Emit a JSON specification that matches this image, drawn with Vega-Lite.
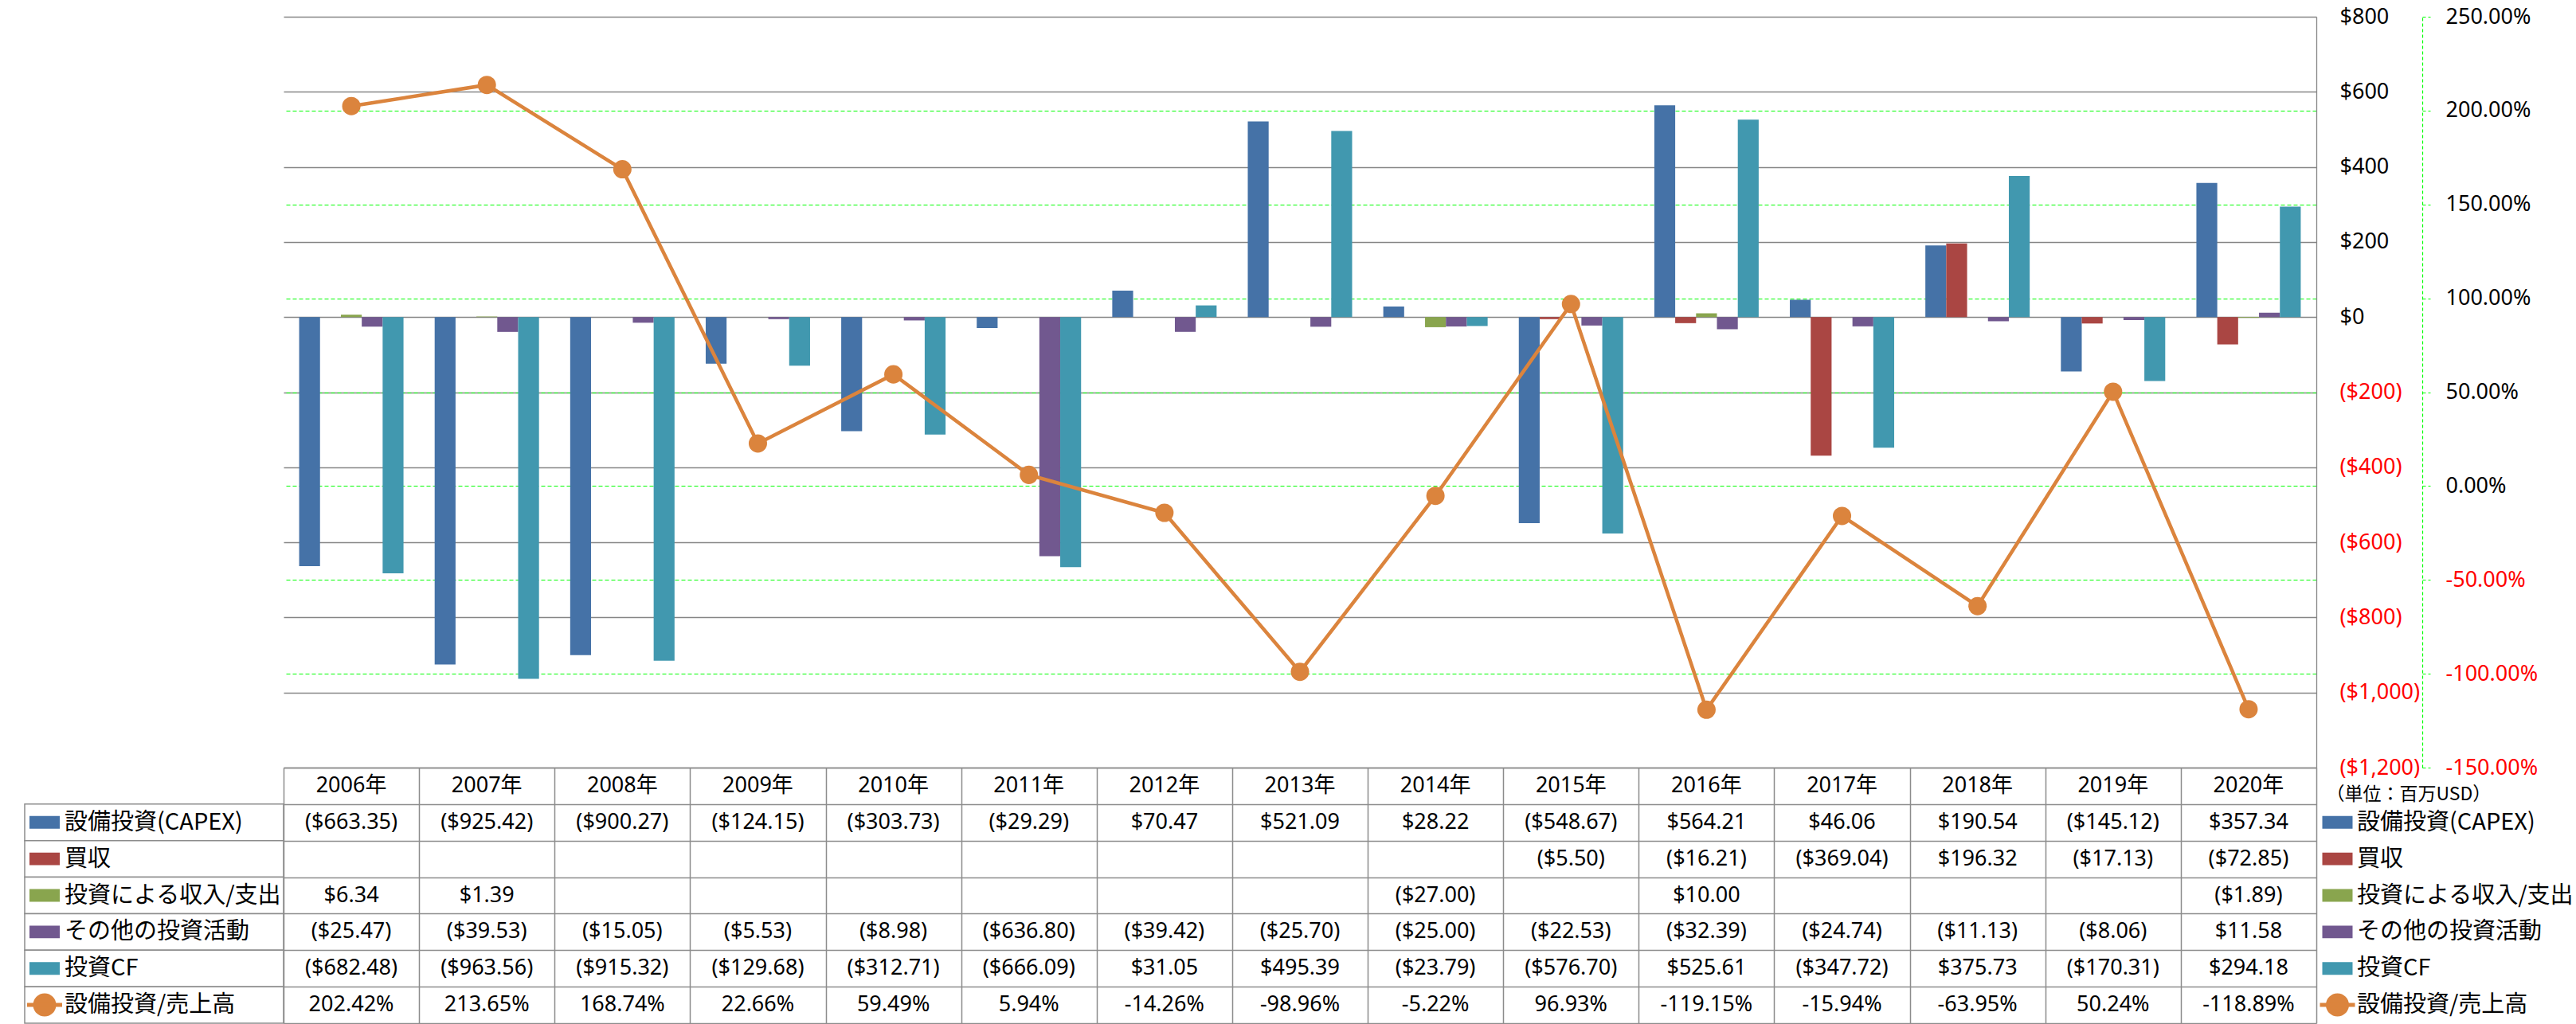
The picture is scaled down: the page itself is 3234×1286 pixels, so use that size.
{
  "$schema": "https://vega.github.io/schema/vega-lite/v6.json",
  "padding": {"left": 24, "top": 7, "right": 2, "bottom": 1},
  "background": "white",
  "config": {
    "font": "Noto Sans CJK JP",
    "view": {"stroke": null},
    "locale": {"number": {"decimal": ".", "thousands": ",", "grouping": [3], "currency": ["$", ""], "minus": "-"}},
    "text": {"font": "Noto Sans CJK JP", "fontSize": 29, "color": "#000000"},
    "axis": {"labelFont": "'Noto Sans', 'Noto Sans CJK JP'", "titleFont": "Noto Sans CJK JP"}
  },
  "datasets": {
    "cf": [
      {"year": "2006年", "series": "設備投資(CAPEX)", "value": -663.35},
      {"year": "2007年", "series": "設備投資(CAPEX)", "value": -925.42},
      {"year": "2008年", "series": "設備投資(CAPEX)", "value": -900.27},
      {"year": "2009年", "series": "設備投資(CAPEX)", "value": -124.15},
      {"year": "2010年", "series": "設備投資(CAPEX)", "value": -303.73},
      {"year": "2011年", "series": "設備投資(CAPEX)", "value": -29.29},
      {"year": "2012年", "series": "設備投資(CAPEX)", "value": 70.47},
      {"year": "2013年", "series": "設備投資(CAPEX)", "value": 521.09},
      {"year": "2014年", "series": "設備投資(CAPEX)", "value": 28.22},
      {"year": "2015年", "series": "設備投資(CAPEX)", "value": -548.67},
      {"year": "2016年", "series": "設備投資(CAPEX)", "value": 564.21},
      {"year": "2017年", "series": "設備投資(CAPEX)", "value": 46.06},
      {"year": "2018年", "series": "設備投資(CAPEX)", "value": 190.54},
      {"year": "2019年", "series": "設備投資(CAPEX)", "value": -145.12},
      {"year": "2020年", "series": "設備投資(CAPEX)", "value": 357.34},
      {"year": "2015年", "series": "買収", "value": -5.50},
      {"year": "2016年", "series": "買収", "value": -16.21},
      {"year": "2017年", "series": "買収", "value": -369.04},
      {"year": "2018年", "series": "買収", "value": 196.32},
      {"year": "2019年", "series": "買収", "value": -17.13},
      {"year": "2020年", "series": "買収", "value": -72.85},
      {"year": "2006年", "series": "投資による収入/支出", "value": 6.34},
      {"year": "2007年", "series": "投資による収入/支出", "value": 1.39},
      {"year": "2014年", "series": "投資による収入/支出", "value": -27.00},
      {"year": "2016年", "series": "投資による収入/支出", "value": 10.00},
      {"year": "2020年", "series": "投資による収入/支出", "value": -1.89},
      {"year": "2006年", "series": "その他の投資活動", "value": -25.47},
      {"year": "2007年", "series": "その他の投資活動", "value": -39.53},
      {"year": "2008年", "series": "その他の投資活動", "value": -15.05},
      {"year": "2009年", "series": "その他の投資活動", "value": -5.53},
      {"year": "2010年", "series": "その他の投資活動", "value": -8.98},
      {"year": "2011年", "series": "その他の投資活動", "value": -636.80},
      {"year": "2012年", "series": "その他の投資活動", "value": -39.42},
      {"year": "2013年", "series": "その他の投資活動", "value": -25.70},
      {"year": "2014年", "series": "その他の投資活動", "value": -25.00},
      {"year": "2015年", "series": "その他の投資活動", "value": -22.53},
      {"year": "2016年", "series": "その他の投資活動", "value": -32.39},
      {"year": "2017年", "series": "その他の投資活動", "value": -24.74},
      {"year": "2018年", "series": "その他の投資活動", "value": -11.13},
      {"year": "2019年", "series": "その他の投資活動", "value": -8.06},
      {"year": "2020年", "series": "その他の投資活動", "value": 11.58},
      {"year": "2006年", "series": "投資CF", "value": -682.48},
      {"year": "2007年", "series": "投資CF", "value": -963.56},
      {"year": "2008年", "series": "投資CF", "value": -915.32},
      {"year": "2009年", "series": "投資CF", "value": -129.68},
      {"year": "2010年", "series": "投資CF", "value": -312.71},
      {"year": "2011年", "series": "投資CF", "value": -666.09},
      {"year": "2012年", "series": "投資CF", "value": 31.05},
      {"year": "2013年", "series": "投資CF", "value": 495.39},
      {"year": "2014年", "series": "投資CF", "value": -23.79},
      {"year": "2015年", "series": "投資CF", "value": -576.70},
      {"year": "2016年", "series": "投資CF", "value": 525.61},
      {"year": "2017年", "series": "投資CF", "value": -347.72},
      {"year": "2018年", "series": "投資CF", "value": 375.73},
      {"year": "2019年", "series": "投資CF", "value": -170.31},
      {"year": "2020年", "series": "投資CF", "value": 294.18},
      {"year": "2006年", "series": "設備投資/売上高", "value": 2.0242},
      {"year": "2007年", "series": "設備投資/売上高", "value": 2.1365},
      {"year": "2008年", "series": "設備投資/売上高", "value": 1.6874},
      {"year": "2009年", "series": "設備投資/売上高", "value": 0.2266},
      {"year": "2010年", "series": "設備投資/売上高", "value": 0.5949},
      {"year": "2011年", "series": "設備投資/売上高", "value": 0.0594},
      {"year": "2012年", "series": "設備投資/売上高", "value": -0.1426},
      {"year": "2013年", "series": "設備投資/売上高", "value": -0.9896},
      {"year": "2014年", "series": "設備投資/売上高", "value": -0.0522},
      {"year": "2015年", "series": "設備投資/売上高", "value": 0.9693},
      {"year": "2016年", "series": "設備投資/売上高", "value": -1.1915},
      {"year": "2017年", "series": "設備投資/売上高", "value": -0.1594},
      {"year": "2018年", "series": "設備投資/売上高", "value": -0.6395},
      {"year": "2019年", "series": "設備投資/売上高", "value": 0.5024},
      {"year": "2020年", "series": "設備投資/売上高", "value": -1.1889}
    ]
  },
  "columns": 3,
  "spacing": 0,
  "bounds": "flush",
  "align": "each",
  "concat": [
    {"width": 325, "height": 943, "data": {"values": []}, "mark": "point", "encoding": {}},
    {
      "width": 2552,
      "height": 943,
      "data": {"name": "cf"},
      "layer": [
        {
          "transform": [{"filter": "datum.series !== '設備投資/売上高'"}],
          "mark": {"type": "bar"},
          "encoding": {
            "x": {"field": "year", "type": "nominal", "sort": null, "scale": {"paddingInner": 0.23, "paddingOuter": 0.115}, "axis": null},
            "xOffset": {"field": "series", "type": "nominal", "sort": null, "scale": {"domain": ["設備投資(CAPEX)", "買収", "投資による収入/支出", "その他の投資活動", "投資CF"], "paddingInner": 0, "paddingOuter": 0}},
            "y": {
              "field": "value", "type": "quantitative",
              "scale": {"domain": [-1200, 800], "nice": false, "zero": false},
              "axis": {
                "orient": "right", "title": null,
                "values": [-1200, -1000, -800, -600, -400, -200, 0, 200, 400, 600, 800],
                "format": "($,.0f",
                "labelFontSize": 27, "labelAlign": "left", "labelBaseline": "middle", "labelPadding": 29,
                "labelColor": {"condition": {"test": "datum.value < 0", "value": "#FF0000"}, "value": "#000000"},
                "labelFlush": false, "labelOverlap": false, "labelBound": false,
                "ticks": false,
                "domain": true, "domainColor": "#868686", "domainWidth": 1.3,
                "grid": true, "gridColor": "#868686", "gridWidth": 1.3
              }
            },
            "color": {"field": "series", "type": "nominal", "scale": {"domain": ["設備投資(CAPEX)", "買収", "投資による収入/支出", "その他の投資活動", "投資CF"], "range": ["#4572A7", "#AA4643", "#89A54E", "#71588F", "#4198AF"]}, "legend": null}
          }
        },
        {
          "transform": [{"filter": "datum.series === '設備投資/売上高'"}],
          "encoding": {
            "x": {"field": "year", "type": "nominal", "sort": null},
            "y": {
              "field": "value", "type": "quantitative",
              "scale": {"domain": [-1.5, 2.5], "nice": false, "zero": false},
              "axis": {
                "orient": "right", "offset": 133, "title": null,
                "values": [-1.5, -1, -0.5, 0, 0.5, 1, 1.5, 2, 2.5],
                "format": ".2%",
                "labelFontSize": 27, "labelAlign": "left", "labelBaseline": "middle", "labelPadding": 19,
                "labelColor": {"condition": {"test": "datum.value < 0", "value": "#FF0000"}, "value": "#000000"},
                "labelFlush": false, "labelOverlap": false, "labelBound": false,
                "ticks": true, "tickSize": 10, "tickColor": "#00FF00", "tickWidth": 1.2, "tickDash": [4, 3],
                "domain": true, "domainColor": "#00FF00", "domainWidth": 1.2, "domainDash": [4, 3],
                "grid": true, "gridColor": "#00FF00", "gridWidth": 1.2, "gridDash": [5, 3],
                "gridOpacity": {"condition": {"test": "datum.value === 2.5 || datum.value === -1.5", "value": 0}, "value": 1}
              }
            }
          },
          "layer": [
            {"mark": {"type": "line", "color": "#DB843D", "strokeWidth": 4.5}},
            {"mark": {"type": "point", "filled": true, "color": "#DB843D", "opacity": 1, "size": 530}}
          ]
        }
      ],
      "resolve": {"scale": {"y": "independent"}}
    },
    {"width": 330, "height": 943, "data": {"values": []}, "mark": "point", "encoding": {}},
    {
      "width": 325,
      "height": 321,
      "data": {"name": "cf"},
      "transform": [{"aggregate": [{"op": "count", "as": "n"}], "groupby": ["series"]}],
      "layer": [
        {
          "mark": {"type": "rect", "fill": "white", "stroke": "#8C8C8C", "strokeWidth": 1.5},
          "encoding": {
            "y": {"field": "series", "type": "nominal", "scale": {"domain": ["年度", "設備投資(CAPEX)", "買収", "投資による収入/支出", "その他の投資活動", "投資CF", "設備投資/売上高"], "paddingInner": 0, "paddingOuter": 0}, "axis": null}
          }
        },
        {
          "transform": [{"filter": "datum.series !== '設備投資/売上高'"}],
          "mark": {"type": "point", "shape": "M-1,-0.42L1,-0.42L1,0.42L-1,0.42Z", "size": 1444, "filled": true, "opacity": 1},
          "encoding": {
            "x": {"datum": "key", "type": "nominal", "scale": {"type": "point", "domain": ["key", "label"], "range": [25, 50], "padding": 0}, "axis": null},
            "y": {"field": "series", "type": "nominal", "axis": null},
            "color": {"field": "series", "type": "nominal", "scale": {"domain": ["設備投資(CAPEX)", "買収", "投資による収入/支出", "その他の投資活動", "投資CF"], "range": ["#4572A7", "#AA4643", "#89A54E", "#71588F", "#4198AF"]}, "legend": null}
          }
        },
        {
          "transform": [{"filter": "datum.series === '設備投資/売上高'"}],
          "mark": {"type": "point", "shape": "M-1,0L1,0M-0.545,0A0.545,0.545,0,1,1,0.545,0A0.545,0.545,0,1,1,-0.545,0Z", "size": 1936, "filled": true, "fill": "#DB843D", "stroke": "#DB843D", "strokeWidth": 5, "opacity": 1},
          "encoding": {
            "x": {"datum": "key", "type": "nominal", "axis": null},
            "y": {"field": "series", "type": "nominal", "axis": null}
          }
        },
        {
          "mark": {"type": "text", "align": "left", "fontSize": 29},
          "encoding": {
            "x": {"datum": "label", "type": "nominal", "axis": null},
            "y": {"field": "series", "type": "nominal", "axis": null},
            "text": {"field": "series"}
          }
        }
      ]
    },
    {
      "width": 2552,
      "height": 321,
      "data": {"name": "cf"},
      "encoding": {
        "x": {"field": "year", "type": "nominal", "sort": null, "scale": {"paddingInner": 0, "paddingOuter": 0},
          "axis": {"orient": "top", "grid": true, "tickBand": "extent", "gridColor": "#8C8C8C", "gridWidth": 1.5, "labels": false, "ticks": false, "domain": false, "title": null}}
      },
      "layer": [
        {
          "transform": [{"filter": "datum.series === '設備投資/売上高'"}],
          "mark": {"type": "text", "fontSize": 27, "font": "'Noto Sans', 'Noto Sans CJK JP'"},
          "encoding": {
            "y": {"datum": "年度", "type": "nominal", "scale": {"domain": ["年度", "設備投資(CAPEX)", "買収", "投資による収入/支出", "その他の投資活動", "投資CF", "設備投資/売上高"], "paddingInner": 0, "paddingOuter": 0},
              "axis": {"grid": true, "tickBand": "extent", "gridColor": "#8C8C8C", "gridWidth": 1.5, "labels": false, "ticks": false, "domain": false, "title": null}},
            "text": {"field": "year"}
          }
        },
        {
          "transform": [{"filter": "datum.series !== '設備投資/売上高'"}],
          "mark": {"type": "text", "fontSize": 27, "font": "Noto Sans"},
          "encoding": {
            "y": {"field": "series", "type": "nominal", "axis": {"grid": true, "tickBand": "extent", "gridColor": "#8C8C8C", "gridWidth": 1.5, "labels": false, "ticks": false, "domain": false, "title": null}},
            "text": {"field": "value", "type": "quantitative", "format": "($,.2f"}
          }
        },
        {
          "transform": [{"filter": "datum.series === '設備投資/売上高'"}],
          "mark": {"type": "text", "fontSize": 27, "font": "Noto Sans"},
          "encoding": {
            "y": {"field": "series", "type": "nominal", "axis": {"grid": true, "tickBand": "extent", "gridColor": "#8C8C8C", "gridWidth": 1.5, "labels": false, "ticks": false, "domain": false, "title": null}},
            "text": {"field": "value", "type": "quantitative", "format": ".2%"}
          }
        }
      ]
    },
    {
      "width": 330,
      "height": 321,
      "data": {"name": "cf"},
      "transform": [{"aggregate": [{"op": "count", "as": "n"}], "groupby": ["series"]}],
      "layer": [
        {
          "transform": [{"filter": "datum.series !== '設備投資/売上高'"}],
          "mark": {"type": "point", "shape": "M-1,-0.42L1,-0.42L1,0.42L-1,0.42Z", "size": 1444, "filled": true, "opacity": 1},
          "encoding": {
            "x": {"datum": "key", "type": "nominal", "scale": {"type": "point", "domain": ["key", "label"], "range": [26.5, 51], "padding": 0}, "axis": null},
            "y": {"field": "series", "type": "nominal", "scale": {"domain": ["年度", "設備投資(CAPEX)", "買収", "投資による収入/支出", "その他の投資活動", "投資CF", "設備投資/売上高"], "paddingInner": 0, "paddingOuter": 0}, "axis": null},
            "color": {"field": "series", "type": "nominal", "scale": {"domain": ["設備投資(CAPEX)", "買収", "投資による収入/支出", "その他の投資活動", "投資CF"], "range": ["#4572A7", "#AA4643", "#89A54E", "#71588F", "#4198AF"]}, "legend": null}
          }
        },
        {
          "transform": [{"filter": "datum.series === '設備投資/売上高'"}],
          "mark": {"type": "point", "shape": "M-1,0L1,0M-0.545,0A0.545,0.545,0,1,1,0.545,0A0.545,0.545,0,1,1,-0.545,0Z", "size": 1936, "filled": true, "fill": "#DB843D", "stroke": "#DB843D", "strokeWidth": 5, "opacity": 1},
          "encoding": {
            "x": {"datum": "key", "type": "nominal", "axis": null},
            "y": {"field": "series", "type": "nominal", "axis": null}
          }
        },
        {
          "mark": {"type": "text", "align": "left", "fontSize": 29},
          "encoding": {
            "x": {"datum": "label", "type": "nominal", "axis": null},
            "y": {"field": "series", "type": "nominal", "axis": null},
            "text": {"field": "series"}
          }
        },
        {
          "transform": [{"filter": "datum.series === '設備投資(CAPEX)'"}],
          "mark": {"type": "text", "align": "left", "fontSize": 23, "dx": -14, "dy": 11, "text": "（単位：百万USD）"},
          "encoding": {
            "x": {"datum": "key", "type": "nominal", "axis": null},
            "y": {"datum": "年度", "type": "nominal", "axis": null}
          }
        }
      ]
    }
  ]
}
